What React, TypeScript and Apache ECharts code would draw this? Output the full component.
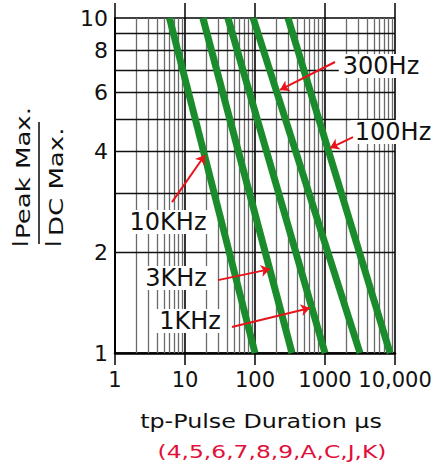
import React, { useEffect, useRef } from 'react';
import * as echarts from 'echarts';

// X axis (pulse duration, µs), log scale
const xTicks = [1, 10, 100, 1000, 10000];
const xTickLabels = ['1', '10', '100', '1000', '10,000'];
const xMinorGrid = [
  2, 3, 4, 5, 6, 7, 8, 9,
  20, 30, 40, 50, 60, 70, 80, 90,
  200, 300, 400, 500, 600, 700, 800, 900,
  2000, 3000, 4000, 5000, 6000, 7000, 8000, 9000,
];

// Y axis (Ipeak / IDC ratio), log scale
const yTickLabels = [1, 2, 4, 6, 8, 10];
const yMinorGrid = [2, 3, 4, 5, 6, 7, 8, 9];

// Curves: pulse duration where the ratio is 10 and where it is 1
const curveNames = ['10KHz', '3KHz', '1KHz', '300Hz', '100Hz'];
const pulseAtRatio10 = [6, 18, 41, 94, 296];
const pulseAtRatio1 = [100, 338, 1000, 3160, 8500];

// Annotation labels (data coordinates) and their arrows
const labelX = [5.72, 7.44, 11.8, 6310, 9360];
const labelY = [2.46, 1.675, 1.246, 7.19, 4.57];
const arrowFromX = [6.52, 29.6, 46.9, 1390, 2512];
const arrowFromY = [2.82, 1.65, 1.196, 7.39, 4.41];
const arrowToX = [19.3, 163.8, 610, 227.6, 1179];
const arrowToY = [3.9, 1.78, 1.362, 6.1, 4.09];

const FONT = 'DejaVu Sans';
const GREEN = '#1b8c2c';
const RED = '#e8141c';
const INK = '#111';

export default function App() {
  const ref = useRef<HTMLDivElement>(null);

  useEffect(() => {
    if (!ref.current) return;
    const chart = echarts.init(ref.current, undefined, { renderer: 'svg' });

    const xLabel = (v: number) => {
      for (let i = 0; i < xTicks.length; i++) {
        if (Math.abs(Math.log10(v) - Math.log10(xTicks[i])) < 1e-6) return xTickLabels[i];
      }
      return '';
    };

    const curveSeries = curveNames.map((name, i) => ({
      type: 'line',
      name,
      data: [
        [pulseAtRatio10[i], 10],
        [pulseAtRatio1[i], 1],
      ],
      symbol: 'none',
      lineStyle: { color: GREEN, width: 7 },
      z: 3,
      silent: true,
    }));

    const option: any = {
      animation: false,
      grid: { left: 115, right: 50, top: 18, bottom: 114, containLabel: false },
      xAxis: [
        {
          type: 'log',
          logBase: 10,
          min: 1,
          max: 10000,
          axisLine: { show: true, lineStyle: { color: '#000', width: 2.5 } },
          axisTick: { show: true, length: 12, lineStyle: { color: '#000', width: 1.5 } },
          axisLabel: {
            formatter: xLabel,
            fontFamily: FONT,
            fontSize: 21,
            color: INK,
            margin: 16,
          },
          splitLine: { show: true, lineStyle: { color: '#000', width: 1.6 } },
        },
        {
          type: 'log',
          logBase: 10,
          min: 1,
          max: 10000,
          position: 'top',
          axisLine: { show: false },
          axisTick: { show: true, length: 15, lineStyle: { color: '#000', width: 1.5 } },
          axisLabel: { show: false },
          splitLine: { show: false },
        },
      ],
      yAxis: {
        type: 'log',
        logBase: 10,
        min: 1,
        max: 10,
        axisLine: { show: true, lineStyle: { color: '#000', width: 2 } },
        axisTick: { show: false },
        axisLabel: {
          customValues: yTickLabels,
          formatter: (v: number) => String(Math.round(v)),
          fontFamily: FONT,
          fontSize: 22,
          color: INK,
          margin: 7,
        },
        splitLine: { show: true, lineStyle: { color: '#000', width: 1.6 } },
      },
      series: [
        {
          type: 'line',
          data: [],
          z: 1,
          silent: true,
          markLine: {
            silent: true,
            z: 1,
            symbol: 'none',
            label: { show: false },
            data: [
              ...xMinorGrid.map((v) => ({
                xAxis: v,
                lineStyle: { color: '#6a6a6a', width: 1.3, type: 'solid' },
              })),
              ...yMinorGrid.map((v) => ({
                yAxis: v,
                lineStyle: { color: '#111', width: 1.4, type: 'solid' },
              })),
            ],
          },
        },
        ...curveSeries,
        {
          type: 'scatter',
          data: curveNames.map((n, i) => [labelX[i], labelY[i], n]),
          symbolSize: 0,
          clip: false,
          z: 6,
          silent: true,
          itemStyle: { opacity: 1 },
          label: {
            show: true,
            position: 'inside',
            formatter: (p: any) => p.value[2],
            fontFamily: FONT,
            fontSize: 24,
            color: INK,
            backgroundColor: '#fff',
            padding: [0, 4],
          },
        },
        {
          type: 'line',
          data: [],
          z: 8,
          silent: true,
          markLine: {
            silent: true,
            z: 8,
            symbol: ['none', 'arrow'],
            symbolSize: 9,
            label: { show: false },
            lineStyle: { color: RED, width: 2, type: 'solid' },
            data: curveNames.map((_, i) => [
              { coord: [arrowFromX[i], arrowFromY[i]] },
              { coord: [arrowToX[i], arrowToY[i]] },
            ]),
          },
        },
      ],
      graphic: [
        // Y axis title: IPeak Max. / IDC Max.
        {
          type: 'text',
          x: 20,
          y: 247,
          rotation: Math.PI / 2,
          style: { text: 'I', fontFamily: FONT, fontSize: 22, fill: INK, align: 'left', verticalAlign: 'middle' },
        },
        {
          type: 'text',
          x: 23,
          y: 239,
          rotation: Math.PI / 2,
          scaleX: 1.3,
          style: { text: 'Peak Max.', fontFamily: FONT, fontSize: 20, fill: INK, align: 'left', verticalAlign: 'middle' },
        },
        {
          type: 'line',
          shape: { x1: 39, y1: 122, x2: 39, y2: 244 },
          style: { stroke: '#444', lineWidth: 2 },
        },
        {
          type: 'text',
          x: 53,
          y: 247,
          rotation: Math.PI / 2,
          style: { text: 'I', fontFamily: FONT, fontSize: 22, fill: INK, align: 'left', verticalAlign: 'middle' },
        },
        {
          type: 'text',
          x: 56,
          y: 236,
          rotation: Math.PI / 2,
          scaleX: 1.3,
          style: { text: 'DC Max.', fontFamily: FONT, fontSize: 20, fill: INK, align: 'left', verticalAlign: 'middle' },
        },
        // X axis title
        {
          type: 'text',
          x: 261,
          y: 421,
          scaleX: 1.19,
          style: { text: 'tp-Pulse Duration µs', fontFamily: FONT, fontSize: 20, fill: INK, align: 'center', verticalAlign: 'middle' },
        },
        {
          type: 'text',
          x: 272,
          y: 452,
          scaleX: 1.3,
          style: { text: '(4,5,6,7,8,9,A,C,J,K)', fontFamily: FONT, fontSize: 18, fill: '#e0103a', align: 'center', verticalAlign: 'middle' },
        },
      ],
    };

    chart.setOption(option);
    return () => chart.dispose();
  }, []);

  return (
    <div
      ref={ref}
      style={{ position: 'fixed', left: 0, top: 0, width: 445, height: 467, background: '#fff' }}
    />
  );
}
